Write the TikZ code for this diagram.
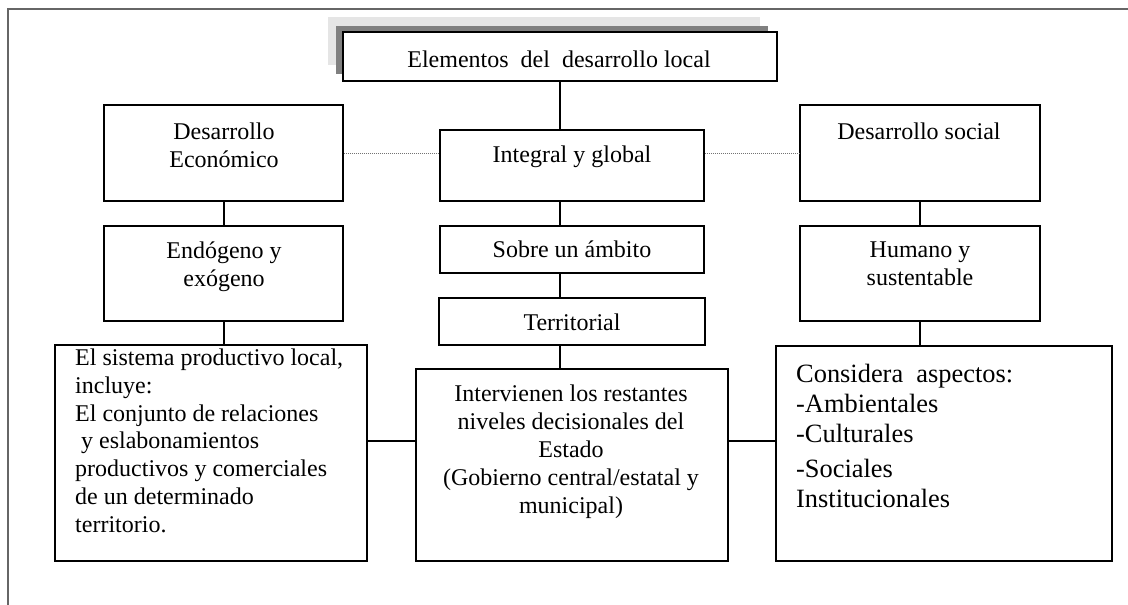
\documentclass[tikz,border=0pt]{standalone}
\usepackage{fontspec}
\setmainfont{Liberation Serif}
\begin{document}
\begin{tikzpicture}[x=1pt,y=-1pt,
  box/.style={draw=black, line width=1.8pt, fill=white, rectangle, inner sep=0pt},
  txt/.style={inner sep=0pt, font=\fontsize{24}{28}\selectfont, align=center, anchor=base},
  ltxt/.style={inner sep=0pt, font=\fontsize{24}{27.7}\selectfont, align=left, anchor=base west},
  conn/.style={line width=1.6pt},
  dotconn/.style={line width=0.8pt, black!55, dash pattern=on 1pt off 1pt}]
\useasboundingbox (0,0) rectangle (1128,605);
% page frame
\draw[line width=1.2pt, black!60] (8,605) -- (8,9) -- (1128,9);
% shadows of the title box
\fill[black!10] (328,17) rectangle (760,65);
\fill[black!50] (336,26) rectangle (768,74);
% boxes
\node[box, minimum width=434, minimum height=49] (top) at (560,56.5) {};
\node[box, minimum width=239, minimum height=96] (DE) at (223.5,153) {};
\node[box, minimum width=239, minimum height=95] (EX) at (223.5,273.5) {};
\node[box, minimum width=312, minimum height=216] (SP) at (211,453) {};
\node[box, minimum width=264, minimum height=71] (IG) at (572,165.5) {};
\node[box, minimum width=264, minimum height=47] (SA) at (572,249.5) {};
\node[box, minimum width=266, minimum height=47] (TE) at (572,321.5) {};
\node[box, minimum width=312, minimum height=192] (IN) at (572,465) {};
\node[box, minimum width=240, minimum height=96] (DS) at (920,153) {};
\node[box, minimum width=240, minimum height=95] (HU) at (920,273.5) {};
\node[box, minimum width=336, minimum height=215] (CO) at (944,453.5) {};
% guide coordinates
\coordinate (xm) at (560,0);
\coordinate (xl) at (224,0);
\coordinate (xr) at (920,0);
\coordinate (yh) at (0,441);
\coordinate (yd) at (0,153);
% connectors
\draw[conn] (top.south -| xm) -- (IG.north -| xm);
\draw[conn] (IG.south -| xm) -- (SA.north -| xm);
\draw[conn] (SA.south -| xm) -- (TE.north -| xm);
\draw[conn] (TE.south -| xm) -- (IN.north -| xm);
\draw[conn] (DE.south -| xl) -- (EX.north -| xl);
\draw[conn] (EX.south -| xl) -- (SP.north -| xl);
\draw[conn] (DS.south -| xr) -- (HU.north -| xr);
\draw[conn] (HU.south -| xr) -- (CO.north -| xr);
\draw[conn] (SP.east |- yh) -- (IN.west |- yh);
\draw[conn] (IN.east |- yh) -- (CO.west |- yh);
\draw[dotconn] (DE.east |- yd) -- (IG.west |- yd);
\draw[dotconn] (IG.east |- yd) -- (DS.west |- yd);
% texts (base anchor = baseline of the last line)
\node[txt] (tTop) at (559,67) {Elementos\ \ del\ \ desarrollo local};
\node[txt] (tDE) at (224,167) {Desarrollo\\Económico};
\node[txt] (tIG) at (572,162) {Integral y global};
\node[txt] (tDS) at (919,139) {Desarrollo social};
\node[txt] (tEX) at (224,286) {Endógeno y\\exógeno};
\node[txt] (tSA) at (572,257) {Sobre un ámbito};
\node[txt] (tHU) at (920,285) {Humano y\\sustentable};
\node[txt] (tTE) at (572,330) {Territorial};
\node[txt] (tIN) at (571,513) {Intervienen los restantes\\niveles decisionales del\\Estado\\(Gobierno central/estatal y\\municipal)};
\node[ltxt] (tSP) at (75,532) {El sistema productivo local,\\incluye:\\El conjunto de relaciones\\\ y eslabonamientos\\productivos y comerciales\\de un determinado\\territorio.};
\node[ltxt, font=\fontsize{26.4}{30}\selectfont] (tCO) at (796,507) {Considera\ \ aspectos:\\-Ambientales\\-Culturales\\[5pt]-Sociales\\Institucionales};
\end{tikzpicture}
\end{document}
